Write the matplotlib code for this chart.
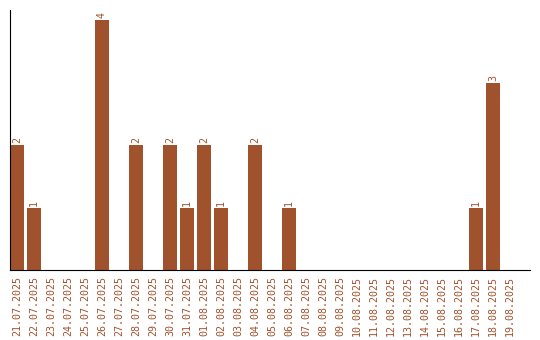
import matplotlib
matplotlib.use("Agg")
import matplotlib.pyplot as plt

dates = ["21.07.2025", "22.07.2025", "23.07.2025", "24.07.2025", "25.07.2025",
         "26.07.2025", "27.07.2025", "28.07.2025", "29.07.2025", "30.07.2025",
         "31.07.2025", "01.08.2025", "02.08.2025", "03.08.2025", "04.08.2025",
         "05.08.2025", "06.08.2025", "07.08.2025", "08.08.2025", "09.08.2025",
         "10.08.2025", "11.08.2025", "12.08.2025", "13.08.2025", "14.08.2025",
         "15.08.2025", "16.08.2025", "17.08.2025", "18.08.2025", "19.08.2025"]
counts = [2, 1, 0, 0, 0, 4, 0, 2, 0, 2, 1, 2, 1, 0, 2, 0, 1, 0, 0, 0,
          0, 0, 0, 0, 0, 0, 0, 1, 3, 0]

color = "#A0522D"

fig = plt.figure(figsize=(5.4, 3.4), dpi=100)
ax = fig.add_axes([10 / 540, 70 / 340, 520 / 540, 260 / 340])

x = list(range(len(dates)))
ax.bar(x, counts, width=0.82, color=color)
for xi, c in zip(x, counts):
    if c > 0:
        ax.text(xi, c + 0.03, str(c), rotation=90, ha="center", va="bottom",
                color=color, fontsize=7.2, family="DejaVu Sans Mono")

ax.set_xlim(-0.41, 30.18)
ax.set_ylim(0, 4.16)
ax.set_xticks(x)
ax.set_xticklabels(dates, rotation=90, color=color, fontsize=7.2,
                   family="DejaVu Sans Mono")
ax.tick_params(axis="x", length=0, pad=4)
ax.set_yticks([])
ax.spines["top"].set_visible(False)
ax.spines["right"].set_visible(False)

fig.savefig("out.png", dpi=100)
